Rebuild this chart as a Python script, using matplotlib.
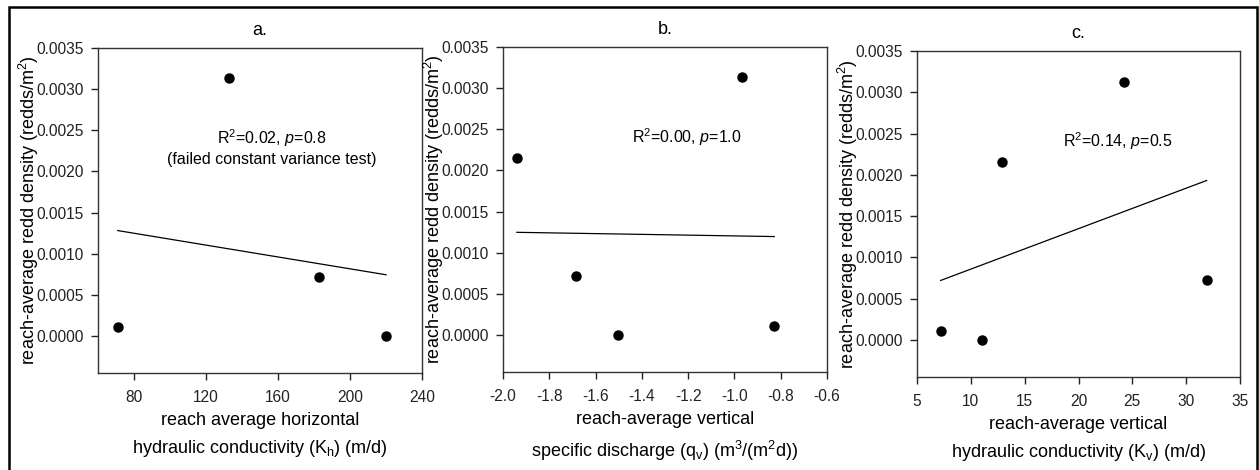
import matplotlib
matplotlib.use("Agg")
import matplotlib.pyplot as plt
from matplotlib.patches import Rectangle
import numpy as np

plt.rcParams["font.family"] = ["Liberation Sans", "DejaVu Sans"]
plt.rcParams["mathtext.fontset"] = "custom"
plt.rcParams["mathtext.rm"] = "Liberation Sans"
plt.rcParams["mathtext.it"] = "Liberation Sans:italic"

# redd density (redds/m^2) per reach
density_a = [0.00011, 0.00313, 0.00072, 0.0]
kh = [71, 133, 183, 220]

density_bc = [0.00215, 0.00072, 0.0, 0.00313, 0.00011]
qv = [-1.94, -1.685, -1.505, -0.968, -0.828]

density_c = [0.00011, 0.0, 0.00215, 0.00313, 0.00072]
kv = [7.2, 11.0, 12.85, 24.25, 31.9]

panels = [
    dict(x=kh, y=density_a, title="a.", xlim=(60, 240), xticks=[80, 120, 160, 200, 240],
         fmt="{:.0f}", note="R$^2$=0.02, $p$=0.8\n(failed constant variance test)",
         note_xy=(0.537, 0.694),
         xlabel="reach average horizontal\nhydraulic conductivity (K$_\\mathrm{h}$) (m/d)"),
    dict(x=qv, y=density_bc, title="b.", xlim=(-2.0, -0.6),
         xticks=[-2.0, -1.8, -1.6, -1.4, -1.2, -1.0, -0.8, -0.6],
         fmt="{:.1f}", note="R$^2$=0.00, $p$=1.0", note_xy=(0.567, 0.723),
         xlabel="reach-average vertical\nspecific discharge (q$_\\mathrm{v}$) (m$^3$/(m$^2$d))"),
    dict(x=kv, y=density_c, title="c.", xlim=(5, 35), xticks=[5, 10, 15, 20, 25, 30, 35],
         fmt="{:.0f}", note="R$^2$=0.14, $p$=0.5", note_xy=(0.622, 0.722),
         xlabel="reach-average vertical\nhydraulic conductivity (K$_\\mathrm{v}$) (m/d)"),
]

# axes boxes in pixels: left, top, right, bottom
boxes = [(98, 48, 422, 373), (503, 47, 827, 372), (917, 51, 1240, 377)]
W, H = 1259, 470

fig = plt.figure(figsize=(W / 100, H / 100), dpi=100)
fig.patch.set_facecolor("white")
fig.add_artist(Rectangle((8.5 / W, -0.1), (1256.5 - 8.5) / W, 1.1 - 7.5 / H,
                         transform=fig.transFigure, fill=False, edgecolor="black",
                         linewidth=1.8))

yticks = np.arange(0, 0.0036, 0.0005)
for p, (l, t, r, b) in zip(panels, boxes):
    ax = fig.add_axes([l / W, 1 - b / H, (r - l) / W, (b - t) / H])
    x = np.array(p["x"])
    y = np.array(p["y"])
    ax.plot(x, y, "o", color="black", markersize=6.5)
    k, c = np.polyfit(x, y, 1)
    xs = np.array([x.min(), x.max()])
    ax.plot(xs, k * xs + c, color="black", linewidth=0.9)
    ax.set_xlim(*p["xlim"])
    ax.set_ylim(-0.00045, 0.0035)
    ax.set_xticks(p["xticks"])
    ax.set_xticklabels([p["fmt"].format(v) for v in p["xticks"]])
    ax.set_yticks(yticks)
    ax.set_yticklabels([f"{v:.4f}" for v in yticks])
    ax.tick_params(direction="out", length=5, width=1, labelsize=11.2, colors="#222222")
    ax.tick_params(axis="y", pad=5)
    ax.tick_params(axis="x", pad=7)
    for s in ax.spines.values():
        s.set_color("#333333")
        s.set_linewidth(1.0)
    ax.set_title(p["title"], fontsize=13, pad=9)
    ax.text(*p["note_xy"], p["note"], transform=ax.transAxes, ha="center",
            va="center", fontsize=11.5, linespacing=1.25)
    ax.set_xlabel(p["xlabel"], fontsize=13, labelpad=5, linespacing=1.6)
    ax.set_ylabel("reach-average redd density (redds/m$^2$)", fontsize=13)
    ax.yaxis.set_label_coords(-0.177, 0.5)

fig.savefig("out.png", dpi=100)
